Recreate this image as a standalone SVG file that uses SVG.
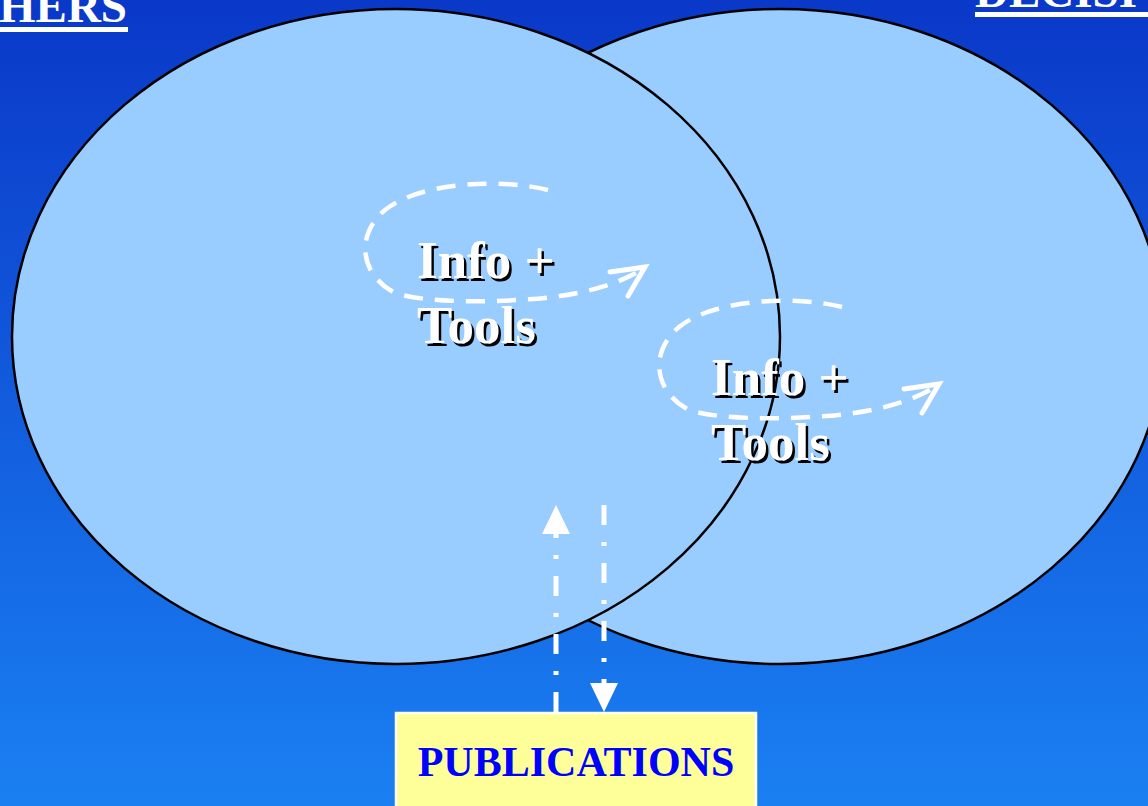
<svg xmlns="http://www.w3.org/2000/svg" width="1148" height="806" viewBox="0 0 1148 806">
<defs>
<linearGradient id="bg" x1="0" y1="0" x2="0" y2="1">
<stop offset="0" stop-color="#0A38C8"/>
<stop offset="1" stop-color="#1A80F2"/>
</linearGradient>
<style>
.circle{fill:#99CCFF;stroke:#000;stroke-width:2.5}
.title{font-family:"Liberation Serif","Times New Roman",serif;font-weight:bold;font-size:47px;fill:#fff}
.lbl{font-family:"Liberation Serif","Times New Roman",serif;font-weight:bold;font-size:53px}
.shadow{fill:#000}
.front{fill:#fff}
.loop{fill:none;stroke:#fff;stroke-width:4.5;stroke-dasharray:19 12}
.head{fill:none;stroke:#fff;stroke-width:5;stroke-linecap:round}
.vline{stroke:#fff;stroke-width:5;stroke-dasharray:20 17 4 17}
.pub{font-family:"Liberation Serif","Times New Roman",serif;font-weight:bold;font-size:42px;fill:#0000FF}
</style>
</defs>
<rect width="1148" height="806" fill="url(#bg)"/>
<g id="decision-makers">
<ellipse class="circle" cx="780" cy="336.5" rx="384" ry="327.5"/>
<text class="title" x="975" y="7">DECISI</text>
<rect x="975" y="12" width="173" height="5" fill="#fff"/>
</g>
<g id="researchers">
<ellipse class="circle" cx="396" cy="336.5" rx="384" ry="327.5"/>
<text class="title" x="127" y="22" text-anchor="end">HERS</text>
<rect x="0" y="27" width="128" height="5" fill="#fff"/>
</g>
<g id="info-tools-1">
<path class="loop" d="M548,190 C500,178 420,182 385,210 C355,235 360,275 395,293 C430,305 520,302 560,296 C600,290 625,280 643,269"/>
<path class="head" d="M610,272 L645,267 L628,296"/>
<text class="lbl shadow" x="419.5" y="280.5">Info +</text>
<text class="lbl front" x="417" y="278">Info +</text>
<text class="lbl shadow" x="419.5" y="345.5">Tools</text>
<text class="lbl front" x="417" y="343">Tools</text>
</g>
<g id="info-tools-2" transform="translate(294,117)">
<path class="loop" d="M548,190 C500,178 420,182 385,210 C355,235 360,275 395,293 C430,305 520,302 560,296 C600,290 625,280 643,269"/>
<path class="head" d="M610,272 L645,267 L628,296"/>
<text class="lbl shadow" x="419.5" y="280.5">Info +</text>
<text class="lbl front" x="417" y="278">Info +</text>
<text class="lbl shadow" x="419.5" y="345.5">Tools</text>
<text class="lbl front" x="417" y="343">Tools</text>
</g>
<g id="connectors">
<line class="vline" x1="556" y1="712" x2="556" y2="530"/>
<polygon points="556,505 570,534 542,534" fill="#fff"/>
<line class="vline" x1="604" y1="505" x2="604" y2="688"/>
<polygon points="604,712 618,683 590,683" fill="#fff"/>
</g>
<g id="publications">
<rect x="396" y="713" width="360" height="100" fill="#FFFF99" stroke="#fff" stroke-width="2.5"/>
<text class="pub" x="576" y="776" text-anchor="middle">PUBLICATIONS</text>
</g>
</svg>
